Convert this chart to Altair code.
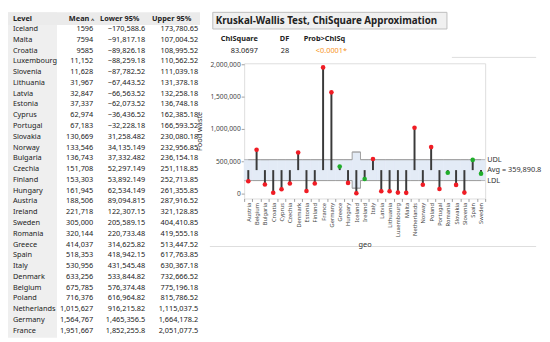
import altair as alt
import pandas as pd

# ---------------- data ----------------
# Means table (sorted by mean)
levels = ["Iceland", "Malta", "Croatia", "Luxembourg", "Slovenia", "Lithuania", "Latvia",
          "Estonia", "Cyprus", "Portugal", "Slovakia", "Norway", "Bulgaria", "Czechia",
          "Finland", "Hungary", "Austria", "Ireland", "Sweden", "Romania", "Greece", "Spain",
          "Italy", "Denmark", "Belgium", "Poland", "Netherlands", "Germany", "France"]
means = [1596, 7594, 9585, 11152, 11628, 31967, 32847, 37337, 62974, 67183, 130669, 133546,
         136743, 151708, 153303, 161945, 188506, 221718, 305000, 320144, 414037, 518353,
         530956, 633256, 675785, 716376, 1015627, 1564767, 1951667]
lower95 = ["\u2212170,588.6", "\u221291,817.18", "\u221289,826.18", "\u221288,259.18",
           "\u221287,782.52", "\u221267,443.52", "\u221266,563.52", "\u221262,073.52",
           "\u221236,436.52", "\u221232,228.18", "31,258.482", "34,135.149", "37,332.482",
           "52,297.149", "53,892.149", "62,534.149", "89,094.815", "122,307.15", "205,589.15",
           "220,733.48", "314,625.82", "418,942.15", "431,545.48", "533,844.82", "576,374.48",
           "616,964.82", "916,215.82", "1,465,356.5", "1,852,255.8"]
upper95 = ["173,780.65", "107,004.52", "108,995.52", "110,562.52", "111,039.18", "131,378.18",
           "132,258.18", "136,748.18", "162,385.18", "166,593.52", "230,080.18", "232,956.85",
           "236,154.18", "251,118.85", "252,713.85", "261,355.85", "287,916.52", "321,128.85",
           "404,410.85", "419,555.18", "513,447.52", "617,763.85", "630,367.18", "732,666.52",
           "775,196.18", "815,786.52", "1,115,037.5", "1,664,178.2", "2,051,077.5"]
table_headers = ["Level", "Mean", "Lower 95%", "Upper 95%"]

# Kruskal-Wallis test
kw_title = "Kruskal-Wallis Test, ChiSquare Approximation"
kw_headers = ["ChiSquare", "DF", "Prob>ChiSq"]
kw_values = ["83.0697", "28", "<0.0001*"]

# Analysis of means chart (alphabetical order)
geo = ["Austria", "Belgium", "Bulgaria", "Croatia", "Cyprus", "Czechia", "Denmark", "Estonia",
       "Finland", "France", "Germany", "Greece", "Hungary", "Iceland", "Ireland", "Italy",
       "Latvia", "Lithuania", "Luxembourg", "Malta", "Netherlands", "Norway", "Poland",
       "Portugal", "Romania", "Slovakia", "Slovenia", "Spain", "Sweden"]
avg = 359890.8
udl = [522000, 522000, 522000, 522000, 522000, 522000, 522000, 522000, 522000, 522000,
       522000, 522000, 522000, 640000, 522000, 522000, 522000, 522000, 522000, 522000,
       522000, 522000, 522000, 522000, 522000, 522000, 522000, 522000, 522000]
ldl = [198000, 198000, 198000, 198000, 198000, 198000, 198000, 198000, 198000, 198000,
       198000, 198000, 198000, 80000, 198000, 198000, 198000, 198000, 198000, 198000,
       198000, 198000, 198000, 198000, 198000, 198000, 198000, 198000, 198000]
y_ticks = [0, 500000, 1000000, 1500000, 2000000]

# ---------------- frames ----------------
FONT = "Noto Sans"
W, H = 246, 138
STEP = W / len(geo)

mean_of = dict(zip(levels, means))
pdf = pd.DataFrame({"geo": geo, "udl": udl, "ldl": ldl})
pdf["mean"] = pdf["geo"].map(mean_of)
pdf["avg"] = avg
pdf["status"] = ["out" if (m > u or m < l) else "in" for m, u, l in zip(pdf["mean"], pdf["udl"], pdf["ldl"])]

tdf = pd.DataFrame({
    "row": list(range(len(levels))),
    "level": levels,
    "mean_txt": [f"{m:,}" if m >= 10000 else str(m) for m in means],
    "lower": lower95,
    "upper": upper95,
})

lim_df = pd.DataFrame({"lab": ["UDL", f"Avg = {avg:,.1f}", "LDL"],
                       "val": [udl[0], avg, ldl[0]]})

GRAY = "#a0a0a0"
yscale = alt.Scale(domain=[-80000, 2015000], nice=False, zero=False)
yaxis = alt.Axis(values=y_ticks, labelExpr="format(datum.value, ',')", title="Food waste",
                 labelFontSize=6.8, labelColor="#444", titleFontSize=7.5, titleColor="#333",
                 titleFontWeight="normal", tickSize=3, tickColor=GRAY, domain=False, grid=False,
                 labelPadding=1, titlePadding=7, labelFont=FONT, titleFont=FONT)
xenc = alt.X("geo:N", sort=geo, scale=alt.Scale(paddingInner=0, paddingOuter=0),
             axis=alt.Axis(title="geo", labelAngle=270, labelFontSize=5.8, labelColor="#444",
                           titleFontSize=7.5, titleColor="#333", titleFontWeight="normal",
                           tickBand="extent", tickSize=3, tickColor=GRAY, domain=False,
                           labelPadding=1, titlePadding=4, labelFont=FONT, titleFont=FONT))

def Y(field):
    return alt.Y(field, type="quantitative", scale=yscale, axis=yaxis)

base = alt.Chart(pdf).encode(x=xenc)

band = base.mark_rect(fill="#e3ebf6", stroke="#e3ebf6", strokeWidth=0.6).encode(
    y=Y("ldl"), y2="udl")
udl_tick = base.mark_tick(size=STEP, thickness=1, color=GRAY).encode(y=Y("udl"))
ldl_tick = base.mark_tick(size=STEP, thickness=1, color=GRAY).encode(y=Y("ldl"))
udl_step = base.mark_line(interpolate="step", color=GRAY, strokeWidth=1).encode(y=Y("udl"))
ldl_step = base.mark_line(interpolate="step", color=GRAY, strokeWidth=1).encode(y=Y("ldl"))
needles = base.mark_rule(color="#3a3a3a", strokeWidth=2).encode(y=Y("avg"), y2="mean")
points = base.mark_circle(size=22, opacity=1).encode(
    y=Y("mean"),
    color=alt.Color("status:N", scale=alt.Scale(domain=["out", "in"], range=["#f01c24", "#1fae2a"]),
                    legend=None))
lim_text = alt.Chart(lim_df).mark_text(align="left", baseline="middle", fontSize=7.5,
                                       color="#333", font=FONT).encode(
    x=alt.value(W + 2), y=Y("val"), text="lab")

plot = alt.layer(band, udl_step, ldl_step, udl_tick, ldl_tick, needles, points, lim_text)

# ---------- table (left) ----------
rscale = alt.Scale(domain=[0, len(levels) - 1], range=[-35, 273])
tb = alt.Chart(tdf).encode(y=alt.Y("row:Q", scale=rscale, axis=None))
TXT = dict(fontSize=7.5, color="#222", font=FONT, baseline="middle")
t_level = tb.mark_text(align="left", **TXT).encode(x=alt.value(-236), text="level")
t_mean = tb.mark_text(align="right", **TXT).encode(x=alt.value(-154), text="mean_txt")
t_low = tb.mark_text(align="right", **TXT).encode(x=alt.value(-101), text="lower")
t_up = tb.mark_text(align="right", **TXT).encode(x=alt.value(-47), text="upper")
table = alt.layer(t_level, t_mean, t_low, t_up)

one = pd.DataFrame({"k": [0]})
def rect(x, x2, y, y2, fill, stroke=None):
    kw = dict(fill=fill)
    if stroke:
        kw.update(stroke=stroke, strokeWidth=1)
    return alt.Chart(one).mark_rect(**kw).encode(
        x=alt.value(x), x2=alt.value(x2), y=alt.value(y), y2=alt.value(y2))

def label(t, x, y, align="left", size=8, bold=True, color="#222"):
    return alt.Chart(one).mark_text(text=t, align=align, baseline="middle", fontSize=size,
                                    fontWeight="bold" if bold else "normal", color=color,
                                    font=FONT).encode(x=alt.value(x), y=alt.value(y))

def hline(x, x2, y, color="#dddddd"):
    return alt.Chart(one).mark_rule(color=color, strokeWidth=1).encode(
        x=alt.value(x), x2=alt.value(x2), y=alt.value(y))

decor = alt.layer(
    rect(-241, -191, -52, 280, "#efefef"),
    rect(-241, -45, -52, -39, "#ebebeb"),
    label(table_headers[0], -236, -45.5, size=7.5),
    label(table_headers[1], -158, -45.5, align="right", size=7.5),
    label("^", -154.5, -44, align="center", size=6),
    label(table_headers[2], -147, -45.5, size=7.5),
    label(table_headers[3], -94, -45.5, size=7.5),
    rect(-32, 207, -52, -35, "#f0f0f0", stroke="#bdbdbd"),
    label(kw_title, -29, -43.5, size=10),
    label(kw_headers[0], 14, -25, align="right", size=7.5),
    label(kw_headers[1], 46, -25, align="right", size=7.5),
    label(kw_headers[2], 103, -25, align="right", size=7.5),
    label(kw_values[0], 14, -12, align="right", size=7.5, bold=False),
    label(kw_values[1], 46, -12, align="right", size=7.5, bold=False),
    label(kw_values[2], 105, -12, align="right", size=7.5, bold=False, color="#f7931e"),
    hline(212, 298, -6),
    hline(-35, 298, 187),
)

chart = alt.layer(decor, plot, table).resolve_scale(y="independent").properties(
    width=W, height=H, padding=0
).configure_view(stroke=GRAY, strokeWidth=1).configure(background="white")

chart.save("out.html", embed_options={"renderer": "svg", "actions": False})
